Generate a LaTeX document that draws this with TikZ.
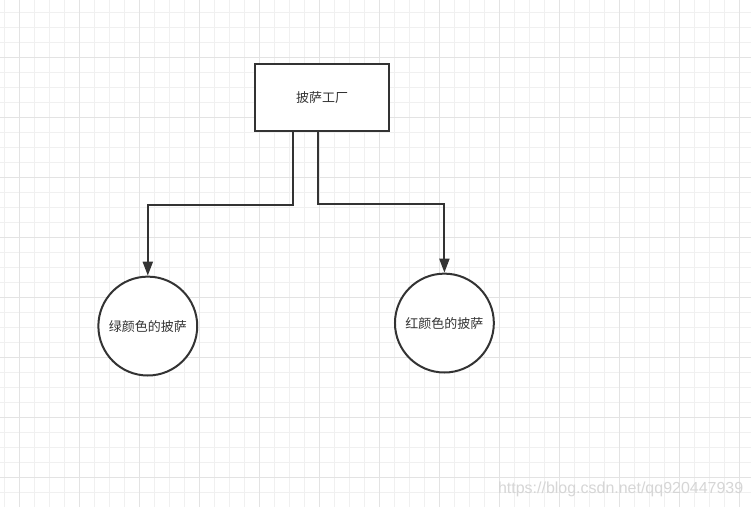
\documentclass[tikz,border=0pt]{standalone}
\usepackage{fontspec}
\setmainfont{Liberation Sans}
\newfontfamily\cjk{Noto Sans CJK SC}
\usetikzlibrary{arrows.meta,positioning}
\definecolor{gridminor}{HTML}{F0F0F0}
\definecolor{gridmajor}{HTML}{E3E3E3}
\definecolor{ink}{HTML}{333333}
\definecolor{wmgray}{HTML}{D6D6D6}

\begin{document}
\begin{tikzpicture}[x=1pt,y=-1pt,
  factorybox/.style={draw=ink,line width=2pt,minimum width=134pt,minimum height=67pt,
    font=\cjk\fontsize{13}{15}\selectfont,text=ink},
  pizza/.style={draw=ink,circle,line width=2pt,minimum size=99pt,inner sep=0pt,
    font=\cjk\fontsize{13}{15}\selectfont,text=ink},
  link/.style={draw=ink,line width=2pt,-{Triangle[length=14pt,width=10pt]}}]
  % background grid
  \fill[white] (0,0) rectangle (751,507);
  \foreach \x in {4.5,19.5,...,751} \draw[gridminor,line width=1pt] (\x,0) -- (\x,507);
  \foreach \y in {12.5,27.5,...,507} \draw[gridminor,line width=1pt] (0,\y) -- (751,\y);
  \foreach \x in {19.5,79.5,...,751} \draw[gridmajor,line width=1pt] (\x,0) -- (\x,507);
  \foreach \y in {57.5,117.5,...,507} \draw[gridmajor,line width=1pt] (0,\y) -- (751,\y);
  \useasboundingbox (0,0) rectangle (751,507);

  \node[factorybox,fill=white] (factory) at (322,97) {披萨工厂};
  \node[pizza,fill=white] (green) at (147.5,326) {绿颜色的披萨};
  \node[pizza,fill=white] (red) at (444.5,323) {红颜色的披萨};

  \draw[link] ([xshift=-29pt]factory.south) -- ++(0,73.5) -| (green.north);
  \draw[link] ([xshift=-4pt]factory.south) -- ++(0,72.5) -| (red.north);

  \node[anchor=base west,inner sep=0pt,text=wmgray,font=\fontsize{16}{18}\selectfont]
    (watermark) at (498,494) {https://blog.csdn.net/qq920447939};
\end{tikzpicture}
\end{document}
